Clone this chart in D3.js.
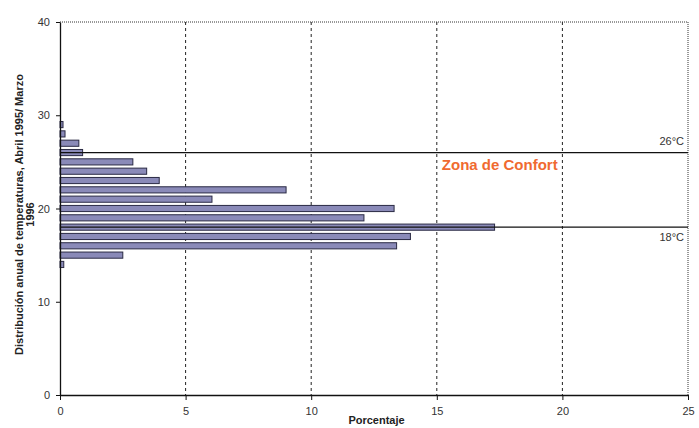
<!DOCTYPE html>
<html><head><meta charset="utf-8">
<script src="https://cdn.jsdelivr.net/npm/d3@7"></script>
<style>body{margin:0;background:#fff}svg{display:block}</style>
</head><body>
<svg id="c" width="699" height="428"></svg>
<script>
const temps = [29,28,27,26,25,24,23,22,21,20,19,18,17,16,15,14];
const pct   = [0.12,0.2,0.75,0.9,2.9,3.45,3.95,9.0,6.05,13.3,12.1,17.3,13.95,13.4,2.5,0.15];
const xTicks = [0,5,10,15,20,25];
const yTicks = [0,10,20,30,40];
const gridX = [5,10,15,20];
const zoneLimits = [26,18];
const zoneLabels = ["26°C","18°C"];

const svg = d3.select("#c");
const x = d3.scaleLinear().domain([0,25]).range([60,688]);
const y = d3.scaleLinear().domain([0,40]).range([395,22]);

// grid
svg.selectAll(".gx").data(gridX).enter().append("line")
  .attr("x1",d=>x(d)).attr("x2",d=>x(d)).attr("y1",y(40)).attr("y2",y(0))
  .attr("stroke","#222").attr("stroke-width",1).attr("stroke-dasharray","3,3");
// top and right dotted borders
svg.append("line").attr("x1",x(0)).attr("x2",x(25)).attr("y1",y(40)).attr("y2",y(40))
  .attr("stroke","#333").attr("stroke-dasharray","1,1");
svg.append("line").attr("x1",x(25)).attr("x2",x(25)).attr("y1",y(40)).attr("y2",y(0))
  .attr("stroke","#333").attr("stroke-dasharray","1,1");

// bars
const bh = 0.33;
svg.selectAll(".bar").data(temps).enter().append("rect")
  .attr("x",x(0)).attr("y",(d)=>y(d+bh))
  .attr("width",(d,i)=>x(pct[i])-x(0))
  .attr("height",d=>y(d-bh)-y(d+bh))
  .attr("fill","#8a8ab8").attr("stroke","#2a2a44").attr("stroke-width",1);

// comfort zone lines
svg.selectAll(".zl").data(zoneLimits).enter().append("line")
  .attr("x1",x(0)).attr("x2",x(25)).attr("y1",d=>y(d)).attr("y2",d=>y(d))
  .attr("stroke","#111").attr("stroke-width",1.2);
svg.selectAll(".zt").data(zoneLimits).enter().append("text")
  .attr("x",x(25)-4).attr("y",(d,i)=>i===0? y(d)-8 : y(d)+14)
  .attr("text-anchor","end").attr("font-family","Liberation Sans, Arial, sans-serif")
  .attr("font-size",11).attr("fill","#333").text((d,i)=>zoneLabels[i]);

svg.append("text").attr("x",x(15.2)).attr("y",y(24.1))
  .attr("font-family","Liberation Sans, Arial, sans-serif").attr("font-weight","bold")
  .attr("font-size",15).attr("fill","#f06a30").text("Zona de Confort");

// axes
const ax = svg.append("g").attr("transform",`translate(0,${y(0)})`)
  .call(d3.axisBottom(x).tickValues(xTicks).tickSize(5).tickSizeOuter(0));
const ay = svg.append("g").attr("transform",`translate(${x(0)},0)`)
  .call(d3.axisLeft(y).tickValues(yTicks).tickSize(4).tickSizeOuter(0));
[ax,ay].forEach(g=>{
  g.selectAll("path").attr("stroke","#111").attr("stroke-width",1.3);
  g.selectAll("line").attr("stroke","#111");
  g.selectAll("text").attr("font-family","Liberation Sans, Arial, sans-serif")
   .attr("font-size",11).attr("fill","#333");
});
ax.selectAll("text").attr("dy","1.1em");
ay.selectAll("text").attr("dx","-3");

// axis titles
svg.append("text").attr("x",x(12.6)).attr("y",424).attr("text-anchor","middle")
  .attr("font-family","Liberation Sans Narrow, Arial Narrow, sans-serif").attr("font-weight","bold")
  .attr("font-size",11).attr("fill","#222").text("Porcentaje");
const yt = svg.append("text").attr("transform",`translate(23,${(y(0)+y(40))/2+6}) rotate(-90)`)
  .attr("text-anchor","middle")
  .attr("font-family","Liberation Sans Narrow, Arial Narrow, sans-serif").attr("font-weight","bold")
  .attr("font-size",11).attr("fill","#222");
yt.append("tspan").attr("x",0).attr("dy",0).text("Distribución anual de temperaturas, Abril 1995/ Marzo");
yt.append("tspan").attr("x",0).attr("dy","1.0em").text("1996");
</script>
</body></html>
